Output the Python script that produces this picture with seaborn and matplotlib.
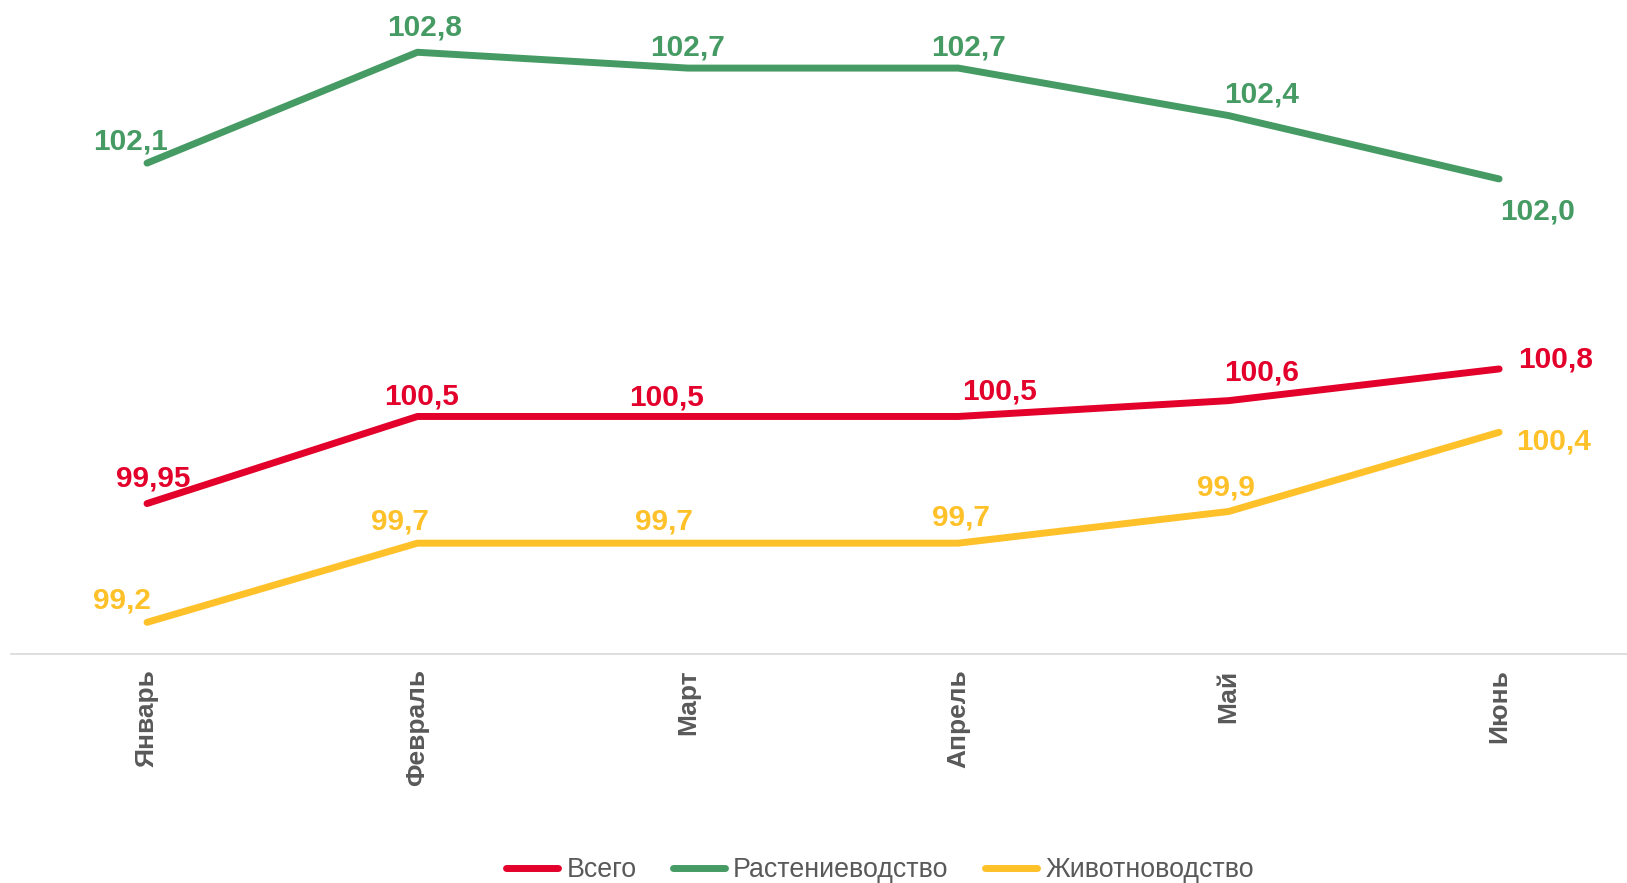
import matplotlib
matplotlib.use("Agg")
import matplotlib.pyplot as plt
import seaborn as sns
import pandas as pd

months = ["Январь", "Февраль", "Март", "Апрель", "Май", "Июнь"]
series_names = ["Всего", "Растениеводство", "Животноводство"]
total = [99.95, 100.5, 100.5, 100.5, 100.6, 100.8]
crops = [102.1, 102.8, 102.7, 102.7, 102.4, 102.0]
livestock = [99.2, 99.7, 99.7, 99.7, 99.9, 100.4]
total_labels = ["99,95", "100,5", "100,5", "100,5", "100,6", "100,8"]
crops_labels = ["102,1", "102,8", "102,7", "102,7", "102,4", "102,0"]
livestock_labels = ["99,2", "99,7", "99,7", "99,7", "99,9", "100,4"]

colors = {"Всего": "#E3002B", "Растениеводство": "#459B63", "Животноводство": "#FFC12A"}

sns.set_theme(style="white")
plt.rcParams["font.family"] = ["Liberation Sans", "DejaVu Sans"]

df = pd.DataFrame({
    "month": months * 3,
    "value": total + crops + livestock,
    "series": [s for s in series_names for _ in months],
})
df["month"] = pd.Categorical(df["month"], categories=months, ordered=True)

fig = plt.figure(figsize=(16.27, 8.83), dpi=100)
ax = fig.add_axes([11 / 1627, (883 - 654) / 883, (1627 - 11) / 1627, 654 / 883])

LW = 5.0
sns.lineplot(data=df, x="month", y="value", hue="series", hue_order=series_names,
             palette=colors, linewidth=LW, solid_capstyle="round", ax=ax, sort=False)

ax.set_xlim(-0.503, 5.473)
ax.set_ylim(99.0, 103.13)

# data labels: (dx, dy) pixel offsets of label centre from point
offs = {
    "Растениеводство": [(-16, 25), (7, 28), (0, 24), (10, 24), (33, 24), (38, -30)],
    "Всего": [(6, 28), (4, 23), (-21, 22), (41, 28), (33, 31), (56, 12)],
    "Животноводство": [(-25, 25), (-17, 25), (-24, 25), (3, 29), (-3, 27), (54, -6)],
}
vals = {"Всего": (total, total_labels), "Растениеводство": (crops, crops_labels),
        "Животноводство": (livestock, livestock_labels)}
for s in series_names:
    v, labs = vals[s]
    for i, (y, lab) in enumerate(zip(v, labs)):
        dx, dy = offs[s][i]
        ax.annotate(lab, (i, y), xytext=(dx, dy - 11), textcoords="offset pixels",
                    ha="center", va="baseline", fontsize=21.5, fontweight="bold",
                    color=colors[s], annotation_clip=False)

for sp in ["top", "left", "right"]:
    ax.spines[sp].set_visible(False)
ax.spines["bottom"].set_color("#D9D9D9")
ax.spines["bottom"].set_linewidth(1.2)
ax.set_yticks([])
ax.set_xlabel("")
ax.set_ylabel("")
ax.set_xticks(range(len(months)))
ax.set_xticklabels(months, rotation=90, fontsize=19, fontweight="bold", color="#595959",
                   va="top", ha="center")
ax.tick_params(axis="x", length=0, pad=11)

handles, labels = ax.get_legend_handles_labels()
leg = ax.legend(handles, labels, loc="center", bbox_to_anchor=(880 / 1627, 13 / 883),
                bbox_transform=fig.transFigure, ncol=3, frameon=False, fontsize=19.3,
                handlelength=1.95, handletextpad=0.3, columnspacing=1.35, borderpad=0)
for h in leg.get_lines():
    h.set_solid_capstyle("round")
    h.set_linewidth(LW)
for t in leg.get_texts():
    t.set_color("#595959")

fig.savefig("out.png", dpi=100, facecolor="white")
